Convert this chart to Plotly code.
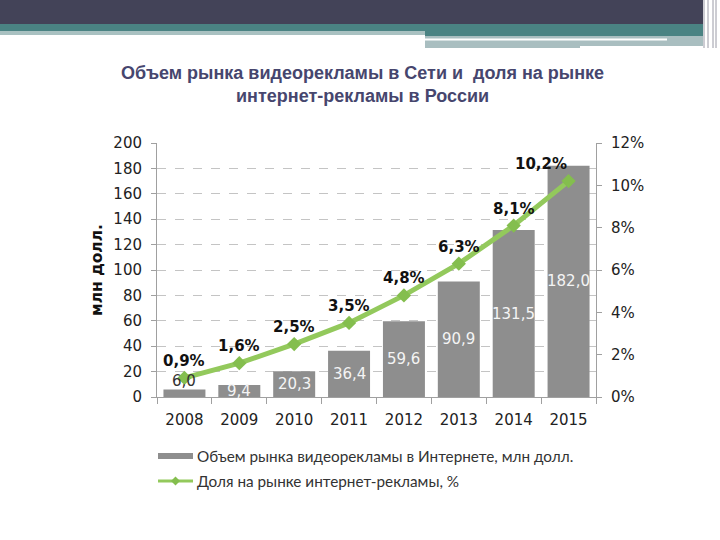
import plotly.graph_objects as go

years = ["2008", "2009", "2010", "2011", "2012", "2013", "2014", "2015"]
volume = [6.0, 9.4, 20.3, 36.4, 59.6, 90.9, 131.5, 182.0]
volume_labels = ["6,0", "9,4", "20,3", "36,4", "59,6", "90,9", "131,5", "182,0"]
share = [0.9, 1.6, 2.5, 3.5, 4.8, 6.3, 8.1, 10.2]
share_labels = ["0,9%", "1,6%", "2,5%", "3,5%", "4,8%", "6,3%", "8,1%", "10,2%"]
y_ticks = [0, 20, 40, 60, 80, 100, 120, 140, 160, 180, 200]
y2_ticks = [0, 2, 4, 6, 8, 10, 12]
y2_tick_labels = ["0%", "2%", "4%", "6%", "8%", "10%", "12%"]

title_text = "Объем рынка видеорекламы в Сети и  доля на рынке<br>интернет-рекламы в России"
y_title = "млн долл."
legend_bar = "Объем рынка видеорекламы в Интернете, млн долл."
legend_line = "Доля на рынке интернет-рекламы, %"

W, H = 720, 540
ML, MR, MT, MB = 157, 124, 143, 143
PW = W - ML - MR
PH = H - MT - MB


def px(x):
    return (x - ML) / PW


def py(y):
    return (H - MB - y) / PH


fig = go.Figure()
fig.add_trace(go.Bar(
    x=years, y=volume, name=legend_bar,
    marker=dict(color="#8E8E8E", line=dict(width=0)),
    showlegend=False,
))
fig.add_trace(go.Scatter(
    x=years, y=share, yaxis="y2", name=legend_line,
    mode="lines+markers",
    line=dict(color="#93C95C", width=5),
    marker=dict(symbol="diamond", size=11, color="#84BE4E"),
    showlegend=False,
))

annotations = []
for i, (v, lab) in enumerate(zip(volume, volume_labels)):
    small = v < 8
    annotations.append(dict(
        x=i, y=v / 2, xref="x", yref="y", text=lab, showarrow=False,
        yshift=12 if small else 0,
        font=dict(family="DejaVu Sans", size=15, color="#333333" if small else "#F4F4F4"),
    ))
for i, (s, lab) in enumerate(zip(share, share_labels)):
    annotations.append(dict(
        x=i, y=s, xref="x", yref="y2", text="<b>" + lab + "</b>", showarrow=False,
        yshift=17, xshift=-28 if i == len(years) - 1 else 0,
        font=dict(family="DejaVu Sans", size=15, color="#111111"),
    ))
annotations.append(dict(
    x=px(97), y=py(270), xref="paper", yref="paper", text="<b>" + y_title + "</b>",
    textangle=-90, showarrow=False, xanchor="center", yanchor="middle",
    font=dict(family="DejaVu Sans", size=15.5, color="#111111"),
))
annotations.append(dict(
    x=px(362), y=py(84), xref="paper", yref="paper", text="<b>" + title_text + "</b>",
    showarrow=False, align="center", xanchor="center", yanchor="middle",
    font=dict(family="Liberation Sans", size=18, color="#46466E"),
))
annotations.append(dict(
    x=px(195), y=py(456), xref="paper", yref="paper", text=legend_bar,
    showarrow=False, xanchor="left", yanchor="middle",
    font=dict(family="Lato", size=15.3, color="#333333"),
))
annotations.append(dict(
    x=px(195), y=py(481), xref="paper", yref="paper", text=legend_line,
    showarrow=False, xanchor="left", yanchor="middle",
    font=dict(family="Lato", size=15.3, color="#333333"),
))

shapes = []


def rect(x0, y0, x1, y1, color):
    shapes.append(dict(type="rect", xref="paper", yref="paper",
                       x0=px(x0), x1=px(x1), y0=py(y0), y1=py(y1),
                       fillcolor=color, line=dict(width=0), layer="above"))


# slide header decoration
rect(0, 0, 703, 24, "#434358")
rect(0, 24, 703, 31, "#4A8383")
rect(0, 31, 425, 35, "#A9C1C1")
rect(425, 31, 703, 36, "#4A8383")
rect(425, 36, 703, 46, "#A9BEC0")
rect(425, 46, 580, 48, "#A9BEC0")
rect(425, 38.5, 667, 40.5, "#FFFFFF")
for vx in [704, 708, 713, 716]:
    shapes.append(dict(type="line", xref="paper", yref="paper",
                       x0=px(vx), x1=px(vx), y0=py(0), y1=py(48),
                       line=dict(color="#9A9AA6", width=1)))

# legend symbols
rect(158, 453, 193, 459, "#8E8E8E")
shapes.append(dict(type="line", xref="paper", yref="paper",
                   x0=px(158), x1=px(193), y0=py(481), y1=py(481),
                   line=dict(color="#93C95C", width=3)))
cx, cy, r = 175.5, 481, 4.5
shapes.append(dict(type="path", xref="paper", yref="paper",
                   path=f"M{px(cx - r)},{py(cy)} L{px(cx)},{py(cy - r)} L{px(cx + r)},{py(cy)} L{px(cx)},{py(cy + r)} Z",
                   fillcolor="#84BE4E", line=dict(width=0)))

axis_font = dict(family="DejaVu Sans", size=15, color="#222222")
fig.update_layout(
    width=W, height=H,
    margin=dict(l=ML, r=MR, t=MT, b=MB),
    paper_bgcolor="white", plot_bgcolor="white",
    bargap=0.235,
    xaxis=dict(
        type="category", range=[-0.5, len(years) - 0.5], showline=True,
        linecolor="#A0A0A0", linewidth=1, tickangle=0,
        ticks="outside", tickson="boundaries", ticklen=6, tickcolor="#A0A0A0",
        tickfont=axis_font, showgrid=False, zeroline=False, ticklabelstandoff=9,
    ),
    yaxis=dict(
        range=[0, 200], tickvals=y_ticks, showline=True, linecolor="#A0A0A0",
        ticks="outside", ticklen=5, tickcolor="#A0A0A0", tickfont=axis_font,
        showgrid=True, gridcolor="#C4C4C4", griddash="dash", gridwidth=1,
        zeroline=False, ticklabelstandoff=6,
    ),
    yaxis2=dict(
        range=[0, 12], tickvals=y2_ticks, ticktext=y2_tick_labels,
        overlaying="y", side="right",
        showline=True, linecolor="#A0A0A0", ticks="outside", ticklen=5,
        tickcolor="#A0A0A0", tickfont=axis_font, showgrid=False, zeroline=False,
        ticklabelstandoff=6,
    ),
    annotations=annotations,
    shapes=shapes,
)

fig.write_html("out.html", config={"displayModeBar": False},
               post_script="document.body.style.margin='0px';")
